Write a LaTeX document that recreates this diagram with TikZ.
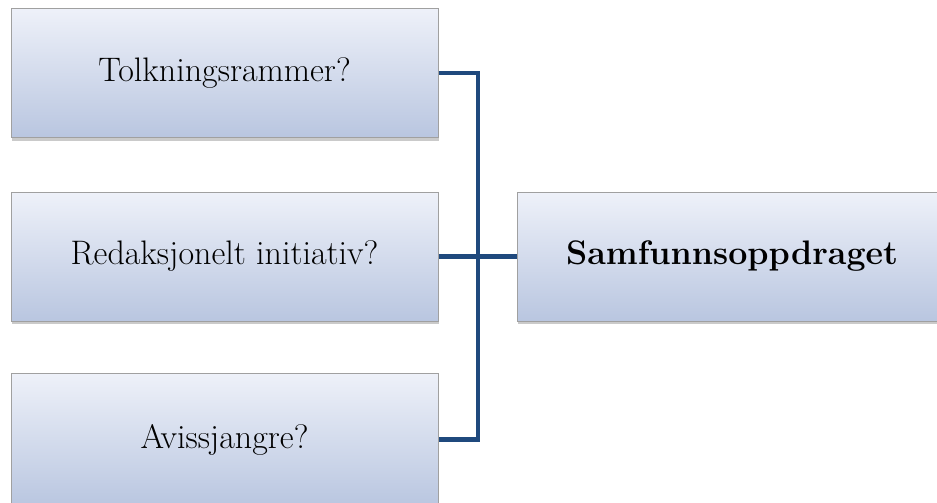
\documentclass[tikz,border=0pt]{standalone}
\usetikzlibrary{shadows}
\definecolor{linkblue}{RGB}{31,73,125}
\definecolor{boxtop}{RGB}{238,241,249}
\definecolor{boxbot}{RGB}{185,198,224}
\definecolor{boxline}{RGB}{160,160,160}
\begin{document}
\begin{tikzpicture}[x=1pt,y=-1pt,
  itembox/.style={draw=boxline,line width=1pt,top color=boxtop,bottom color=boxbot,
    minimum width=427pt,minimum height=129pt,inner sep=0pt,
    drop shadow={shadow xshift=1pt,shadow yshift=-3pt,opacity=0.35,fill=black!60},
    font=\fontsize{34}{40}\selectfont},
  link/.style={draw=linkblue,line width=4.5pt}]
\useasboundingbox (0,0) rectangle (937,503);
\node[itembox] (a) at (224.5,73) {Tolkningsrammer?};
\node[itembox] (b) at (224.5,256.5) {Redaksjonelt initiativ?};
\node[itembox,minimum height=133pt] (c) at (224.5,439.5) {Avissjangre?};
\node[itembox,minimum width=430pt,font=\fontsize{34}{40}\selectfont\bfseries] (s) at (732,256.5) {Samfunnsoppdraget};
\coordinate (j) at (478,256.5);
\draw[link] (a.east) -| (j) |- (c.east);
\draw[link] (b.east) -- (s.west);
\end{tikzpicture}
\end{document}
